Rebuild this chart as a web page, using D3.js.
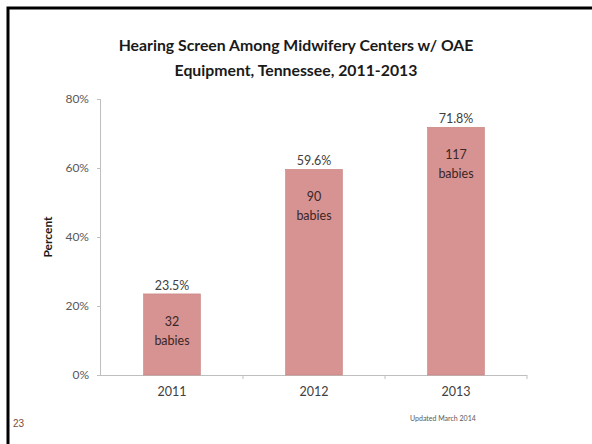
<!DOCTYPE html>
<html>
<head>
<meta charset="utf-8">
<script src="https://cdn.jsdelivr.net/npm/d3@7/dist/d3.min.js"></script>
<style>
  html, body { margin: 0; padding: 0; background: #fff; }
  svg { display: block; }
</style>
</head>
<body>
<svg id="chart" width="592" height="444"></svg>
<script>
'use strict';

// ── データ ──────────────────────────────────────────────
const years = ['2011', '2012', '2013'];
const percents = [23.5, 59.6, 71.8];
const babies = [32, 90, 117];
const yTicks = [0, 20, 40, 60, 80];
const titleLines = ['Hearing Screen Among Midwifery Centers w/ OAE', 'Equipment, Tennessee, 2011-2013'];

const W = 592, H = 444;
const FONT = 'Lato, "Open Sans", sans-serif';
const BAR = '#d69392';

const svg = d3.select('#chart');

// 枠線
svg.append('path')
  .attr('d', `M8,${H + 5}V8H${W + 5}`)
  .attr('fill', 'none')
  .attr('stroke', '#000')
  .attr('stroke-width', 3);

// タイトル
svg.append('g').selectAll('text')
  .data(titleLines)
  .join('text')
  .attr('x', 296)
  .attr('y', (d, i) => 51 + i * 25)
  .attr('text-anchor', 'middle')
  .attr('font-family', FONT)
  .attr('font-weight', 700)
  .attr('font-size', 15.8)
  .attr('fill', '#1a1a1a')
  .text(d => d);

// ── スケール ──────────────────────────────────────────────
const x = d3.scaleBand().domain(years).range([101, 527]).paddingInner(0.6).paddingOuter(0.3);
const y = d3.scaleLinear().domain([0, 80]).range([375, 99]);

// y軸
const yAxis = svg.append('g')
  .attr('transform', 'translate(101,0)')
  .call(d3.axisLeft(y).tickValues(yTicks).tickFormat(d => d + '%').tickSize(4).tickPadding(8));
yAxis.select('.domain').attr('stroke', '#bfbfbf').attr('d', `M-0.5,${y(80)}V${y(0)}`);
yAxis.selectAll('.tick line').attr('stroke', '#bfbfbf');
yAxis.selectAll('.tick text')
  .attr('font-family', FONT)
  .attr('font-size', 12)
  .attr('fill', '#595959');

// x軸
const xAxis = svg.append('g')
  .attr('transform', `translate(0,${y(0)})`)
  .call(d3.axisBottom(x).tickSize(0).tickPadding(12));
xAxis.select('.domain').attr('stroke', '#bfbfbf').attr('d', `M101,0.5H527`);
xAxis.selectAll('.tick text')
  .attr('font-family', FONT)
  .attr('font-size', 12.5)
  .attr('fill', '#404040');

// カテゴリ境界の目盛り
svg.append('g').selectAll('line')
  .data(d3.range(1, years.length + 1))
  .join('line')
  .attr('x1', i => 101 + i * x.step())
  .attr('x2', i => 101 + i * x.step())
  .attr('y1', y(0))
  .attr('y2', y(0) + 4)
  .attr('stroke', '#bfbfbf');

// y軸ラベル
svg.append('text')
  .attr('transform', `translate(52,${(y(0) + y(80)) / 2}) rotate(-90)`)
  .attr('text-anchor', 'middle')
  .attr('font-family', FONT)
  .attr('font-weight', 700)
  .attr('font-size', 12)
  .attr('fill', '#1a1a1a')
  .text('Percent');

// ── バー ──────────────────────────────────────────────
const barG = svg.append('g').selectAll('g')
  .data(years.map((yr, i) => ({ yr, pct: percents[i], n: babies[i] })))
  .join('g');

barG.append('rect')
  .attr('x', d => x(d.yr))
  .attr('y', d => y(d.pct))
  .attr('width', x.bandwidth())
  .attr('height', d => y(0) - y(d.pct))
  .attr('fill', BAR)
  .attr('stroke', '#c7807e')
  .attr('stroke-width', 0.6);

// 値ラベル
barG.append('text')
  .attr('x', d => x(d.yr) + x.bandwidth() / 2)
  .attr('y', d => y(d.pct) - 4)
  .attr('text-anchor', 'middle')
  .attr('font-family', FONT)
  .attr('font-size', 12.5)
  .attr('fill', '#404040')
  .text(d => d.pct.toFixed(1) + '%');

// 乳児数ラベル
barG.append('text')
  .attr('x', d => x(d.yr) + x.bandwidth() / 2)
  .attr('y', d => y(d.pct) + 32)
  .attr('text-anchor', 'middle')
  .attr('font-family', FONT)
  .attr('font-size', 12.5)
  .attr('fill', '#3b2626')
  .text(d => d.n);

barG.append('text')
  .attr('x', d => x(d.yr) + x.bandwidth() / 2)
  .attr('y', d => y(d.pct) + 51)
  .attr('text-anchor', 'middle')
  .attr('font-family', FONT)
  .attr('font-size', 12.5)
  .attr('fill', '#3b2626')
  .text('babies');

// フッター
svg.append('text')
  .attr('x', 13)
  .attr('y', 427)
  .attr('font-family', '"Liberation Sans", Arial, sans-serif')
  .attr('font-size', 10)
  .attr('fill', '#7b4b3a')
  .text('23');

svg.append('text')
  .attr('x', 410)
  .attr('y', 421)
  .attr('font-family', FONT)
  .attr('font-size', 7)
  .attr('fill', '#595959')
  .text('Updated March 2014');
</script>
</body>
</html>
